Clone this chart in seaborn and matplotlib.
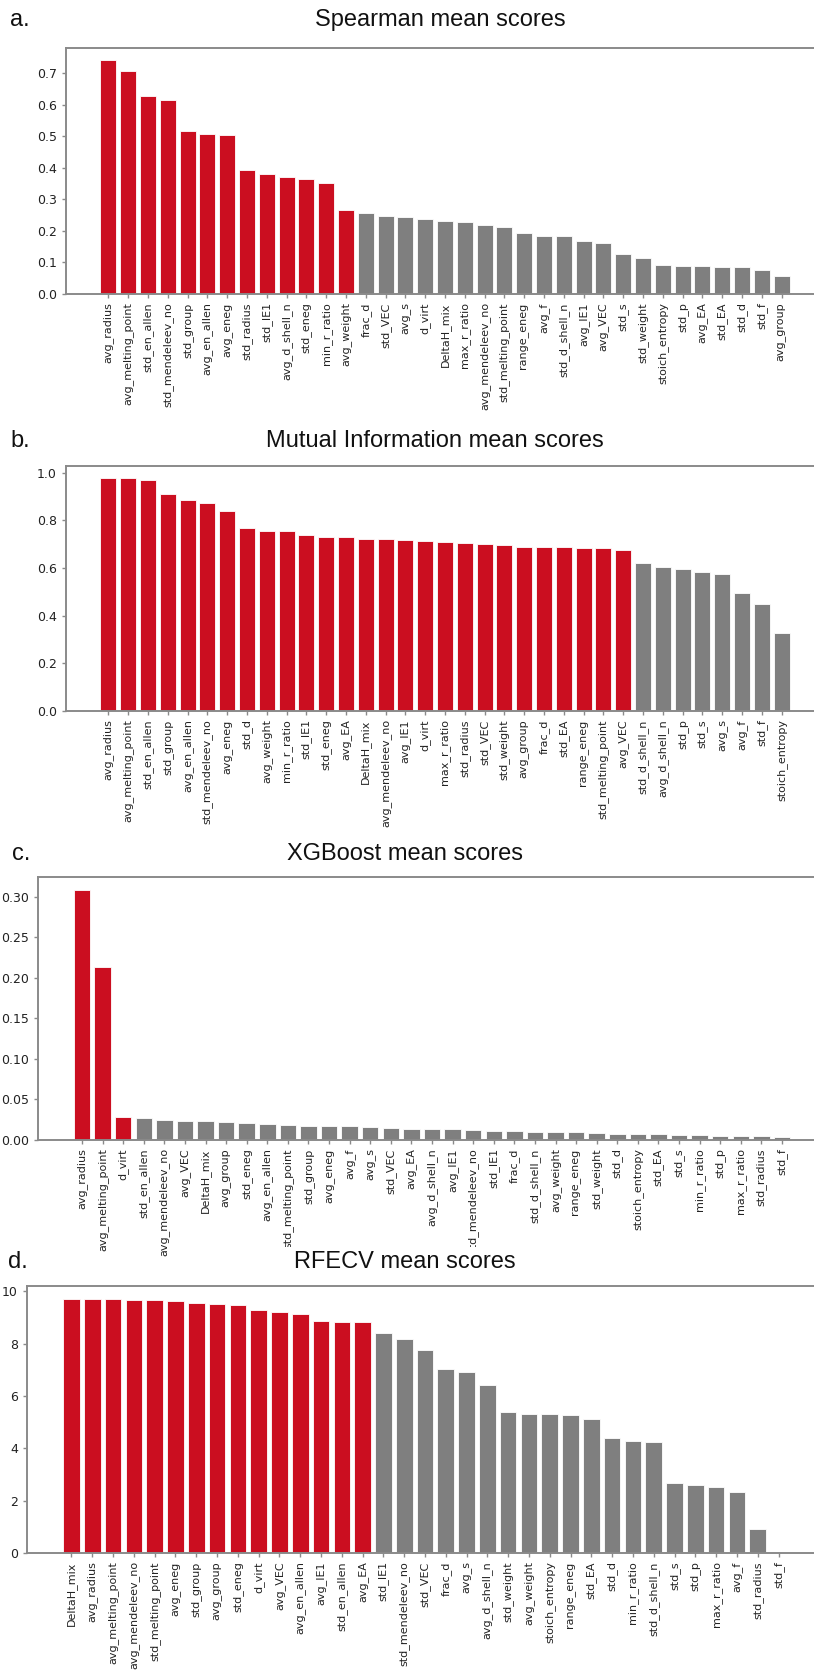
import matplotlib
matplotlib.use("Agg")
import matplotlib.pyplot as plt
from matplotlib.transforms import Bbox, TransformedBbox
import seaborn as sns
import pandas as pd

# ---------------- data ----------------
spearman_features = ["avg_radius", "avg_melting_point", "std_en_allen", "std_mendeleev_no", "std_group",
                     "avg_en_allen", "avg_eneg", "std_radius", "std_IE1", "avg_d_shell_n", "std_eneg",
                     "min_r_ratio", "avg_weight", "frac_d", "std_VEC", "avg_s", "d_virt", "DeltaH_mix",
                     "max_r_ratio", "avg_mendeleev_no", "std_melting_point", "range_eneg", "avg_f",
                     "std_d_shell_n", "avg_IE1", "avg_VEC", "std_s", "std_weight", "stoich_entropy",
                     "std_p", "avg_EA", "std_EA", "std_d", "std_f", "avg_group"]
spearman_scores = [0.742, 0.705, 0.626, 0.613, 0.516, 0.506, 0.504, 0.392, 0.379, 0.371, 0.364,
                   0.350, 0.267, 0.255, 0.247, 0.243, 0.236, 0.231, 0.229, 0.217, 0.212, 0.194,
                   0.183, 0.183, 0.169, 0.163, 0.127, 0.115, 0.093, 0.090, 0.090, 0.086, 0.086,
                   0.076, 0.058]
spearman_selected = 13

mi_features = ["avg_radius", "avg_melting_point", "std_en_allen", "std_group", "avg_en_allen",
               "std_mendeleev_no", "avg_eneg", "std_d", "avg_weight", "min_r_ratio", "std_IE1",
               "std_eneg", "avg_EA", "DeltaH_mix", "avg_mendeleev_no", "avg_IE1", "d_virt",
               "max_r_ratio", "std_radius", "std_VEC", "std_weight", "avg_group", "frac_d", "std_EA",
               "range_eneg", "std_melting_point", "avg_VEC", "std_d_shell_n", "avg_d_shell_n",
               "std_p", "std_s", "avg_s", "avg_f", "std_f", "stoich_entropy"]
mi_scores = [0.979, 0.976, 0.968, 0.909, 0.884, 0.873, 0.838, 0.768, 0.756, 0.756, 0.740,
             0.732, 0.729, 0.723, 0.721, 0.718, 0.714, 0.708, 0.704, 0.700, 0.696, 0.690,
             0.689, 0.686, 0.684, 0.683, 0.675, 0.620, 0.605, 0.596, 0.585, 0.573, 0.496,
             0.447, 0.328]
mi_selected = 27

xgb_features = ["avg_radius", "avg_melting_point", "d_virt", "std_en_allen", "avg_mendeleev_no",
                "avg_VEC", "DeltaH_mix", "avg_group", "std_eneg", "avg_en_allen",
                "std_melting_point", "std_group", "avg_eneg", "avg_f", "avg_s", "std_VEC", "avg_EA",
                "avg_d_shell_n", "avg_IE1", "std_mendeleev_no", "std_IE1", "frac_d",
                "std_d_shell_n", "avg_weight", "range_eneg", "std_weight", "std_d",
                "stoich_entropy", "std_EA", "std_s", "min_r_ratio", "std_p", "max_r_ratio",
                "std_radius", "std_f"]
xgb_scores = [0.309, 0.213, 0.028, 0.027, 0.025, 0.0236, 0.0232, 0.0224, 0.021, 0.020,
              0.018, 0.0175, 0.0173, 0.017, 0.0156, 0.0148, 0.014, 0.013, 0.013, 0.0118,
              0.0114, 0.011, 0.0101, 0.0101, 0.0093, 0.0089, 0.0076, 0.0072, 0.0068, 0.0063,
              0.0059, 0.0055, 0.0055, 0.0046, 0.0038]
xgb_selected = 3

rfecv_features = ["DeltaH_mix", "avg_radius", "avg_melting_point", "avg_mendeleev_no",
                  "std_melting_point", "avg_eneg", "std_group", "avg_group", "std_eneg", "d_virt",
                  "avg_VEC", "avg_en_allen", "avg_IE1", "std_en_allen", "avg_EA", "std_IE1",
                  "std_mendeleev_no", "std_VEC", "frac_d", "avg_s", "avg_d_shell_n", "std_weight",
                  "avg_weight", "stoich_entropy", "range_eneg", "std_EA", "std_d", "min_r_ratio",
                  "std_d_shell_n", "std_s", "std_p", "max_r_ratio", "avg_f", "std_radius", "std_f"]
rfecv_scores = [9.72, 9.72, 9.72, 9.68, 9.68, 9.65, 9.56, 9.50, 9.48, 9.27, 9.23, 9.12, 8.87,
                8.83, 8.82, 8.41, 8.17, 7.76, 7.05, 6.92, 6.41, 5.38, 5.30, 5.30, 5.27, 5.14,
                4.41, 4.30, 4.24, 2.66, 2.59, 2.52, 2.34, 0.90, 0.0]
rfecv_selected = 15

panel_letters = ["a.", "b.", "c.", "d."]
panel_titles = ["Spearman mean scores", "Mutual Information mean scores",
                "XGBoost mean scores", "RFECV mean scores"]

# ---------------- style ----------------
RED = "#CB0E20"
GRAY = "#7F7F7F"
SPINE = "#8A8A8A"

sns.set_style("white")
plt.rcParams["font.family"] = ["DejaVu Sans"]

W, H = 814, 1671
fig = plt.figure(figsize=(W / 100, H / 100), dpi=100)

# layout in pixels: (left, right, top, bottom), title (x, y), letter (x, y), label clip (px from top, first index)
layout = [
    ((66, 824, 48, 294), (440, 20), (10, 20), None),
    ((66, 824, 466, 711), (435, 441), (10, 441), None),
    ((38, 826, 877, 1140), (405, 854), (12, 854), (1247, 5)),
    ((27, 823, 1286, 1553), (405, 1262), (8, 1262), None),
]

datasets = [
    (spearman_features, spearman_scores, spearman_selected),
    (mi_features, mi_scores, mi_selected),
    (xgb_features, xgb_scores, xgb_selected),
    (rfecv_features, rfecv_scores, rfecv_selected),
]

clip_jobs = []
for (feats, vals, nsel), ((l, r, t, b), (tx, ty), (lx, ly), clip), letter, title in zip(
        datasets, layout, panel_letters, panel_titles):
    ax = fig.add_axes([l / W, 1 - b / H, (r - l) / W, (b - t) / H])
    df = pd.DataFrame({"feature": feats, "score": vals})
    palette = [RED if i < nsel else GRAY for i in range(len(feats))]
    sns.barplot(data=df, x="feature", y="score", hue="feature", palette=palette,
                legend=False, width=0.8, edgecolor="white", linewidth=0.6,
                saturation=1, ax=ax)
    n = len(feats)
    pad = 0.05 * (n - 1 + 0.8)
    ax.set_xlim(-0.4 - pad, n - 1 + 0.4 + pad)
    ax.set_ylim(0, max(vals) * 1.05)
    ax.set_xlabel("")
    ax.set_ylabel("")
    for side in ["left", "bottom", "top", "right"]:
        ax.spines[side].set_color(SPINE)
        ax.spines[side].set_linewidth(1.4)
    ax.tick_params(axis="x", rotation=90, labelsize=8, length=3, width=1,
                   color=SPINE, labelcolor="#222222", bottom=True, pad=3)
    ax.tick_params(axis="y", labelsize=9, length=3, width=1, color=SPINE,
                   labelcolor="#222222", left=True)
    fig.text(tx / W, 1 - ty / H, title, ha="center", va="center",
             fontsize=17, family=["Liberation Sans", "DejaVu Sans"], color="#111111")
    fig.text(lx / W, 1 - ly / H, letter, ha="left", va="center",
             fontsize=17, family=["Liberation Sans", "DejaVu Sans"], color="#111111")
    if clip is not None:
        clip_jobs.append((ax, clip))

# the reference crops the lower ends of some long labels of panel c
for ax, (ypx, first) in clip_jobs:
    box = TransformedBbox(Bbox([[0, 1 - ypx / H], [1, 1]]), fig.transFigure)
    for i, lab in enumerate(ax.get_xticklabels()):
        if i >= first:
            lab.set_clip_on(True)
            lab.set_clip_box(box)

fig.savefig("out.png", dpi=100)
